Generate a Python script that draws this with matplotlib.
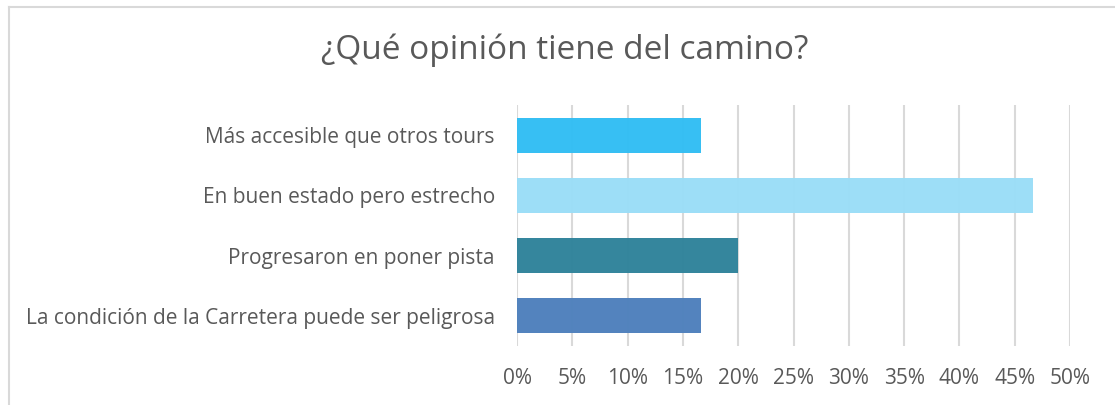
import matplotlib
matplotlib.use("Agg")
import matplotlib.pyplot as plt
from matplotlib.lines import Line2D
from matplotlib.ticker import FuncFormatter

title = "¿Qué opinión tiene del camino?"
categories = [
    "Más accesible que otros tours",
    "En buen estado pero estrecho",
    "Progresaron en poner pista",
    "La condición de la Carretera puede ser peligrosa",
]
values = [16.67, 46.67, 20.0, 16.67]
colors = ["#33BEF3", "#9BDEF7", "#31849B", "#4F81BD"]
xticks = [0, 5, 10, 15, 20, 25, 30, 35, 40, 45, 50]

plt.rcParams["font.family"] = ["Open Sans", "DejaVu Sans"]
W, H = 1115, 405
fig = plt.figure(figsize=(W / 100, H / 100), dpi=100)
ax = fig.add_axes([517 / W, 1 - 346 / H, (1070 - 517) / W, (346 - 105) / H])

ypos = list(range(len(categories)))[::-1]
ax.barh(ypos, values, height=0.58, color=colors, alpha=0.98, zorder=3)

ax.set_xlim(0, 50)
ax.set_ylim(-0.5, 3.5)
ax.set_xticks(xticks)
ax.xaxis.set_major_formatter(FuncFormatter(lambda v, p: f"{v:.0f}%"))
ax.set_yticks(ypos)
ax.set_yticklabels(categories)
ax.grid(axis="x", color="#D9D9D9", linewidth=1.5, zorder=0)
ax.set_axisbelow(True)
for s in ax.spines.values():
    s.set_visible(False)
ax.tick_params(axis="both", length=0, labelsize=15, colors="#595959")
ax.tick_params(axis="x", pad=16)
ax.tick_params(axis="y", pad=16)

fig.text(565 / W, 1 - 50 / H, title, ha="center", va="center", fontsize=24, color="#595959")

fig.add_artist(Line2D([8.5 / W, 1], [1 - 6.5 / H, 1 - 6.5 / H], color="#D9D9D9", linewidth=1.5, transform=fig.transFigure))
fig.add_artist(Line2D([8.5 / W, 8.5 / W], [0, 1 - 6.5 / H], color="#D9D9D9", linewidth=1.5, transform=fig.transFigure))

fig.savefig("out.png", dpi=100, facecolor="white")
